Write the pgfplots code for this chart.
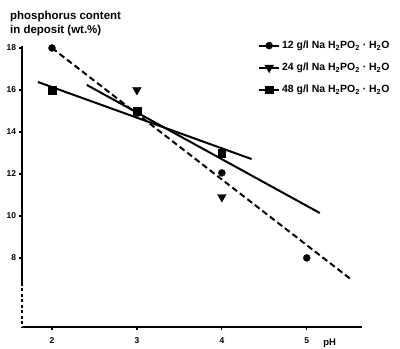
\documentclass[border=0pt]{standalone}
\usepackage{fontspec}
\setmainfont{Liberation Sans}
\usepackage{pgfplots}
\pgfplotsset{compat=1.18}
\begin{document}
\begin{tikzpicture}
\begin{axis}[
  scale only axis, width=340bp, height=281.1bp,
  xmin=1.647, xmax=5.65, ymin=4.71, ymax=18.1,
  axis lines=left, axis line style={-, line width=1.5bp},
  y axis line style={draw=none},
  xtick={2,3,4,5}, ytick={8,10,12,14,16,18},
  tick align=outside, major tick length=2.5bp, tick style={line width=1.2bp, black},
  ticklabel style={font=\fontsize{8.5}{9}\selectfont\bfseries},
  xticklabel style={yshift=-5bp},
  /pgf/number format/assume math mode=true,
  clip=false,
  legend style={at={(0.694,1.025)}, anchor=north west, draw=none, fill=none,
    font=\fontsize{10.5}{11}\selectfont\bfseries, row sep=9bp, inner sep=0pt,
    legend cell align=left},
  legend image code/.code={\draw[solid,line width=2bp,mark=none] (0bp,0bp) -- (20bp,0bp);
    \draw[only marks] plot coordinates {(10bp,0bp)};},
]
% fitted lines
\addplot[forget plot, black, line width=2bp, dash pattern=on 6bp off 3.5bp] coordinates {(2.0,18.0) (5.53,6.95)};
\addplot[forget plot, black, line width=2bp] coordinates {(1.835,16.38) (4.35,12.71)};
\addplot[forget plot, black, line width=2bp] coordinates {(2.41,16.24) (5.153,10.14)};
% data points
\addplot[only marks, mark=*, mark size=3.5bp, black] coordinates {(2,18) (3,14.9) (4,12.05) (5,8.0)};
\addlegendentry{12 g/l Na H\textsubscript{2}PO\textsubscript{2} · H\textsubscript{2}O}
\addplot[only marks, mark=triangle*, mark options={rotate=180}, mark size=5bp, black] coordinates {(3,16.0) (4,10.9)};
\addlegendentry{24 g/l Na H\textsubscript{2}PO\textsubscript{2} · H\textsubscript{2}O}
\addplot[only marks, mark=square*, mark size=3.8bp, black] coordinates {(2,16.0) (3,15.0) (4,13.0)};
\addlegendentry{48 g/l Na H\textsubscript{2}PO\textsubscript{2} · H\textsubscript{2}O}
% broken y axis
\draw[line width=1.5bp] (axis cs:1.647,18.1) -- (axis cs:1.647,6.81);
\draw[line width=1.5bp, dash pattern=on 3bp off 2.5bp] (axis cs:1.647,6.81) -- (axis cs:1.647,4.71);
\node[anchor=base, font=\fontsize{9.5}{10}\selectfont\bfseries] at (axis cs:5.27,4.71) [yshift=-18bp] {pH};
\end{axis}
\node[anchor=base west, inner sep=0pt, font=\fontsize{11.5}{12}\selectfont\bfseries] at (-12bp,307bp) {phosphorus content};
\node[anchor=base west, inner sep=0pt, font=\fontsize{11.5}{12}\selectfont\bfseries] at (-12bp,293bp) {in deposit (wt.\%)};
\pgfresetboundingbox
\path (-22bp,-22bp) rectangle (378bp,327bp);
\end{tikzpicture}
\end{document}
